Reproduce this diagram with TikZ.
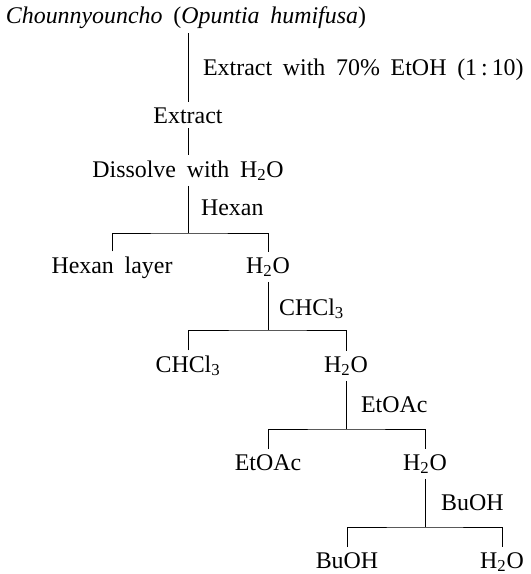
\documentclass[tikz,border=0pt]{standalone}
\usepackage{fontspec}
\setmainfont{Liberation Serif}[WordSpace=1.8]
\usepackage{tikz}

\begin{document}
\begin{tikzpicture}[x=0.025cm, y=-0.025cm, font=\fontsize{17}{20}\selectfont, line width=0.6pt]
\useasboundingbox (0,0) rectangle (531,574);
\node[anchor=base] (src) at (186,23) {\textit{Chounnyouncho} (\textit{Opuntia humifusa})};
\node[anchor=base west] (stepA) at (198,75) {Extract with 70\% EtOH (1\,:\,10)};
\node[anchor=base] (ext) at (188,123) {Extract};
\node[anchor=base] (dis) at (188,177) {Dissolve with H\textsubscript{2}O};
\node[anchor=base west] (stepB) at (196,215) {Hexan};
\node[anchor=base] (hexl) at (112,273) {Hexan layer};
\node[anchor=base] (wa) at (268,273) {H\textsubscript{2}O};
\node[anchor=base west] (stepC) at (274,315) {CHCl\textsubscript{3}};
\node[anchor=base] (chl) at (188,372) {CHCl\textsubscript{3}};
\node[anchor=base] (wb) at (346,372) {H\textsubscript{2}O};
\node[anchor=base west] (stepD) at (356,412) {EtOAc};
\node[anchor=base] (eto) at (268,470) {EtOAc};
\node[anchor=base] (wc) at (425,470) {H\textsubscript{2}O};
\node[anchor=base west] (stepE) at (436,510) {BuOH};
\node[anchor=base] (bu) at (347,568) {BuOH};
\node[anchor=base] (wd) at (502,568) {H\textsubscript{2}O};
\coordinate (sa) at (188,233);
\coordinate (sb) at (268,330);
\coordinate (sc) at (346,429);
\coordinate (sd) at (425,527);
\draw (src.south -| ext.north) -- (ext.north);
\draw (ext) -- (dis);
\draw (dis) -- (sa);
\draw (hexl) |- (sa) -| (wa);
\draw (wa) -- (sb);
\draw (chl) |- (sb) -| (wb);
\draw (wb) -- (sc);
\draw (eto) |- (sc) -| (wc);
\draw (wc) -- (sd);
\draw (bu) |- (sd) -| (wd);
\end{tikzpicture}
\end{document}
